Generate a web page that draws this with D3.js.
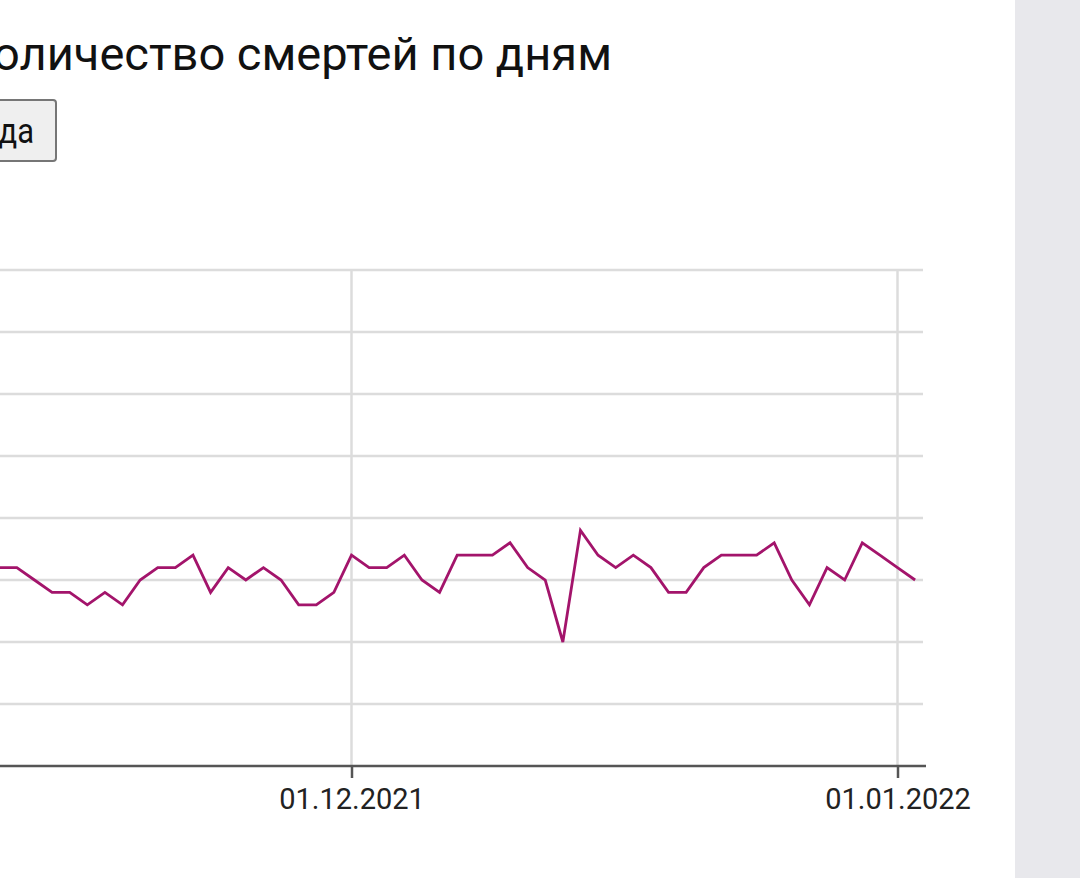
<!DOCTYPE html>
<html>
<head>
<meta charset="utf-8">
<script src="https://cdn.jsdelivr.net/npm/d3@7"></script>
<style>
  html, body { margin: 0; padding: 0; background: #fff; overflow: hidden; }
  svg { display: block; font-family: Roboto, "Noto Sans", sans-serif; }
</style>
</head>
<body>
<svg id="chart" width="1080" height="878"></svg>
<script>
// ---- data ----
const dates = [
  "2021-11-11","2021-11-12","2021-11-13","2021-11-14","2021-11-15","2021-11-16","2021-11-17",
  "2021-11-18","2021-11-19","2021-11-20","2021-11-21","2021-11-22","2021-11-23","2021-11-24",
  "2021-11-25","2021-11-26","2021-11-27","2021-11-28","2021-11-29","2021-11-30","2021-12-01",
  "2021-12-02","2021-12-03","2021-12-04","2021-12-05","2021-12-06","2021-12-07","2021-12-08",
  "2021-12-09","2021-12-10","2021-12-11","2021-12-12","2021-12-13","2021-12-14","2021-12-15",
  "2021-12-16","2021-12-17","2021-12-18","2021-12-19","2021-12-20","2021-12-21","2021-12-22",
  "2021-12-23","2021-12-24","2021-12-25","2021-12-26","2021-12-27","2021-12-28","2021-12-29",
  "2021-12-30","2021-12-31","2022-01-01","2022-01-02"
];
const deaths = [
  16,16,15,14,14,13,14,
  13,15,16,16,17,14,16,
  15,16,15,13,13,14,17,
  16,16,17,15,14,17,17,
  17,18,16,15,10,19,17,
  16,17,16,14,14,16,17,
  17,17,18,15,13,16,15,
  18,17,16,15
];
const tickDates = ["2021-12-01","2022-01-01"];
const yTicks = [5,10,15,20,25,30,35,40];
const titleText = "Количество смертей по дням";
const buttonText = "Легенда";

// ---- drawing ----
const parse = d3.timeParse("%Y-%m-%d");
const data = dates.map((d,i) => ({date: parse(d), value: deaths[i]}));
const svg = d3.select("#chart");

svg.append("rect").attr("x",0).attr("y",0).attr("width",1080).attr("height",878).attr("fill","#fff");
svg.append("rect").attr("x",1015).attr("y",0).attr("width",65).attr("height",878).attr("fill","#e8e8ec");

// title (left part is cut off by the viewport, as in the reference)
svg.append("text")
  .attr("x", 612).attr("y", 70)
  .attr("text-anchor","end")
  .attr("font-size", 47)
  .attr("fill","#111")
  .text(titleText);

// button (cut off at the left, as in the reference)
svg.append("rect")
  .attr("x",-120).attr("y",100).attr("width",176).attr("height",61)
  .attr("rx",3)
  .attr("fill","#efefef").attr("stroke","#767676").attr("stroke-width",2);
svg.append("text")
  .attr("transform","translate(34,143) scale(0.86,1)")
  .attr("text-anchor","end")
  .attr("font-size",36)
  .attr("fill","#111")
  .text(buttonText);

// scales
const x = d3.scaleTime()
  .domain([parse(tickDates[0]), parse(tickDates[1])])
  .range([351.5, 897.5]);
const left = -60, right = 923;
x.domain([x.invert(left), x.invert(right)]).range([left, right]);

const y = d3.scaleLinear().domain([0, 40]).range([766, 270]);

// horizontal grid
svg.append("g")
  .selectAll("line").data(yTicks).join("line")
  .attr("x1", left).attr("x2", right)
  .attr("y1", d => y(d)).attr("y2", d => y(d))
  .attr("stroke","#dcdcdc").attr("stroke-width",2.5);

// vertical grid
svg.append("g")
  .selectAll("line").data(tickDates.map(parse)).join("line")
  .attr("x1", d => x(d)).attr("x2", d => x(d))
  .attr("y1", y(40)).attr("y2", y(0))
  .attr("stroke","#dcdcdc").attr("stroke-width",2.5);

// x axis
const axis = d3.axisBottom(x)
  .tickValues(tickDates.map(parse))
  .tickFormat(d3.timeFormat("%d.%m.%Y"))
  .tickSizeInner(12).tickSizeOuter(0).tickPadding(10);
const gx = svg.append("g").attr("transform", `translate(0,${y(0)})`).call(axis);
gx.select(".domain").attr("stroke","#555").attr("stroke-width",2.5)
  .attr("d", `M${left},0H${right + 3}`);
gx.selectAll(".tick line").attr("stroke","#555").attr("stroke-width",2.5);
gx.selectAll(".tick text")
  .attr("font-family","Roboto, 'Noto Sans', sans-serif")
  .attr("font-size",29).attr("fill","#222");

// line
const line = d3.line().x(d => x(d.date)).y(d => y(d.value));
svg.append("path")
  .datum(data)
  .attr("d", line)
  .attr("fill","none")
  .attr("stroke","#a3146b")
  .attr("stroke-width",2.8)
  .attr("stroke-linejoin","miter");
</script>
</body>
</html>
